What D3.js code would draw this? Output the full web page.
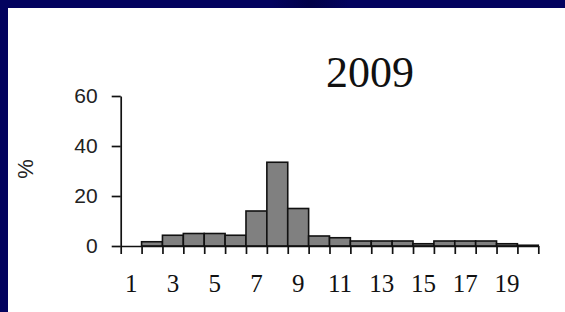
<!DOCTYPE html>
<html>
<head>
<meta charset="utf-8">
<script src="https://cdn.jsdelivr.net/npm/d3@7"></script>
<style>
  body { margin: 0; background: #ffffff; }
  svg { display: block; }
</style>
</head>
<body>
<div id="chart"></div>
<script>
// Set dimensions
const width = 565;
const height = 312;

// Chart data
const categories = d3.range(1, 21);
const percents = [0, 1.7, 4.3, 5, 5, 4.3, 14, 33.5, 15, 4, 3.3, 2, 2, 2, 0.9, 2, 2, 2, 0.9, 0.3];
const xLabels = [1, 3, 5, 7, 9, 11, 13, 15, 17, 19];
const yTicks = [0, 20, 40, 60];
const title = "2009";

const svg = d3.select("#chart")
  .append("svg")
  .attr("width", width)
  .attr("height", height);

// navy slide frame (top and left edges)
const grad = svg.append("defs").append("linearGradient")
  .attr("id", "navy")
  .attr("x1", "0").attr("x2", "1").attr("y1", "0").attr("y2", "0");
grad.append("stop").attr("offset", "0").attr("stop-color", "#03035f");
grad.append("stop").attr("offset", "0.48").attr("stop-color", "#03035f");
grad.append("stop").attr("offset", "0.55").attr("stop-color", "#010148");
grad.append("stop").attr("offset", "0.62").attr("stop-color", "#03035f");
grad.append("stop").attr("offset", "1").attr("stop-color", "#03035f");

svg.append("rect").attr("x", 0).attr("y", 0).attr("width", width).attr("height", height).attr("fill", "#ffffff");
svg.append("rect").attr("x", 0).attr("y", 0).attr("width", width).attr("height", 8).attr("fill", "url(#navy)");
svg.append("rect").attr("x", 0).attr("y", 0).attr("width", 8).attr("height", height).attr("fill", "#03035f");

// Scales
const plot = {left: 120.7, right: 538.3, top: 96, bottom: 246};

let yScale = d3.scaleLinear()
  .domain([0, 60])
  .range([plot.bottom, plot.top]);

let xScale = d3.scaleBand()
  .domain(categories)
  .range([plot.left, plot.right])
  .padding(0);

// boundaries between classes, for the tick marks
let xEdge = d3.scaleLinear()
  .domain([0.5, 20.5])
  .range([plot.left, plot.right]);

// Bars
svg.selectAll(".bar")
  .data(categories.map((c, i) => ({cat: c, value: percents[i]})).filter(d => d.value > 0))
  .enter()
  .append("rect")
    .attr("class", "bar")
    .attr("x", d => xScale(d.cat))
    .attr("y", d => yScale(d.value))
    .attr("width", xScale.bandwidth())
    .attr("height", d => yScale(0) - yScale(d.value))
    .attr("fill", "#808080")
    .attr("stroke", "#111")
    .attr("stroke-width", 1.6);

// x axis: ticks at class edges
svg.append("g")
  .attr("transform", `translate(0,${plot.bottom})`)
  .call(d3.axisBottom(xEdge)
    .tickValues(d3.range(0.5, 21, 1))
    .tickFormat("")
    .tickSize(8)
    .tickSizeOuter(0))
  .call(g => g.selectAll("path, line").attr("stroke", "#111").attr("stroke-width", 1.7));

// x tick labels at class centres
svg.append("g")
  .attr("transform", `translate(0,${plot.bottom})`)
  .call(d3.axisBottom(xScale)
    .tickValues(xLabels)
    .tickSize(0)
    .tickPadding(28))
  .call(g => g.select(".domain").remove())
  .call(g => g.selectAll("text")
    .attr("font-family", "'Liberation Serif', 'Times New Roman', serif")
    .attr("font-size", "25px")
    .attr("fill", "#111"));

// y axis
svg.append("g")
  .attr("transform", `translate(${plot.left},0)`)
  .call(d3.axisLeft(yScale)
    .tickValues(yTicks)
    .tickSize(9)
    .tickSizeOuter(0)
    .tickPadding(14))
  .call(g => g.selectAll("path, line").attr("stroke", "#111").attr("stroke-width", 1.7))
  .call(g => g.selectAll("text")
    .attr("font-family", "'Liberation Sans', Arial, sans-serif")
    .attr("font-size", "21px")
    .attr("fill", "#222"));

// y axis title
svg.append("text")
  .attr("transform", "translate(25,169) rotate(-90)")
  .attr("text-anchor", "middle")
  .attr("dominant-baseline", "central")
  .attr("font-family", "'Liberation Sans', Arial, sans-serif")
  .attr("font-size", "22px")
  .attr("fill", "#222")
  .text("%");

// chart title
svg.append("text")
  .attr("x", 370)
  .attr("y", 87)
  .attr("text-anchor", "middle")
  .attr("font-family", "'Liberation Serif', 'Times New Roman', serif")
  .attr("font-size", "44px")
  .attr("fill", "#111")
  .text(title);
</script>
</body>
</html>
